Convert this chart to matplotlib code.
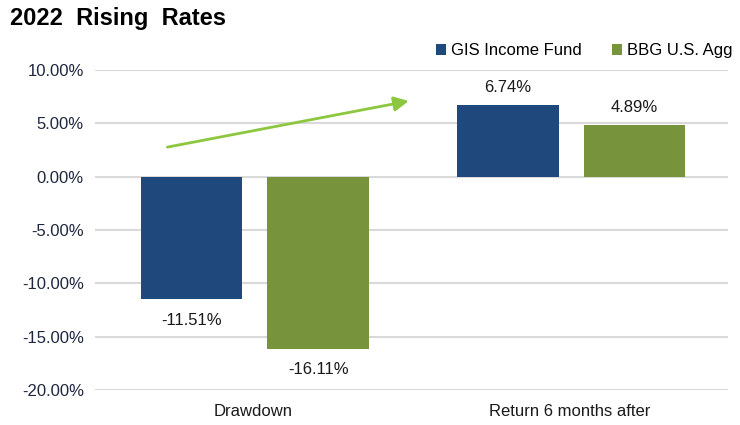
import numpy as np
import matplotlib.pyplot as plt

plt.rcParams['font.family'] = ['Liberation Sans', 'DejaVu Sans']

categories = ['Drawdown', 'Return 6 months after']
series_names = ['GIS Income Fund', 'BBG U.S. Agg']
gis_values = [-11.51, 6.74]
agg_values = [-16.11, 4.89]
yticks = [10, 5, 0, -5, -10, -15, -20]

blue = '#1F497D'
green = '#77933C'

fig = plt.figure(figsize=(7.4, 4.25), dpi=100)
ax = fig.add_axes([95 / 740, 1 - 390 / 425, 633 / 740, 320 / 425])

x = np.arange(len(categories))
w = 0.32
ax.bar(x - 0.195, gis_values, w, color=blue, label=series_names[0], zorder=3)
ax.bar(x + 0.205, agg_values, w, color=green, label=series_names[1], zorder=3)

for xi, v in zip(x - 0.195, gis_values):
    ax.text(xi, v + (0.9 if v > 0 else -1.3), f'{v:.2f}%', ha='center',
            va='bottom' if v > 0 else 'top', fontsize=12, color='#1a1a1a')
for xi, v in zip(x + 0.205, agg_values):
    ax.text(xi, v + (0.9 if v > 0 else -1.3), f'{v:.2f}%', ha='center',
            va='bottom' if v > 0 else 'top', fontsize=12, color='#1a1a1a')

ax.set_xlim(-0.5, 1.5)
ax.set_ylim(-20, 10)
ax.set_yticks(yticks)
ax.set_yticklabels([f'{t:.2f}%' for t in yticks], fontsize=12, color='#1F2740')
ax.set_xticks(x)
ax.set_xticklabels(categories, fontsize=12, color='#1a1a1a')
ax.tick_params(length=0, pad=8)
ax.tick_params(axis='x', pad=10)
ax.grid(axis='y', color='#D9D9D9', linewidth=1.5, zorder=0)
for s in ax.spines.values():
    s.set_visible(False)

ax.annotate('', xy=(0.50, 7.14), xytext=(-0.28, 2.72),
            arrowprops=dict(arrowstyle='-|>', color='#8DC63F', lw=2,
                            mutation_scale=22), zorder=4)

fig.text(10 / 740, 1 - 18 / 425, '2022  Rising  Rates', fontsize=17,
         fontweight='bold', va='center', ha='left')

ax.legend(loc='lower right', bbox_to_anchor=(1.025, 1.0), ncol=2, frameon=False,
          fontsize=12, handlelength=0.6, handleheight=0.6, handletextpad=0.3,
          columnspacing=1.8, borderaxespad=0.3)

fig.savefig('out.png', dpi=100)
